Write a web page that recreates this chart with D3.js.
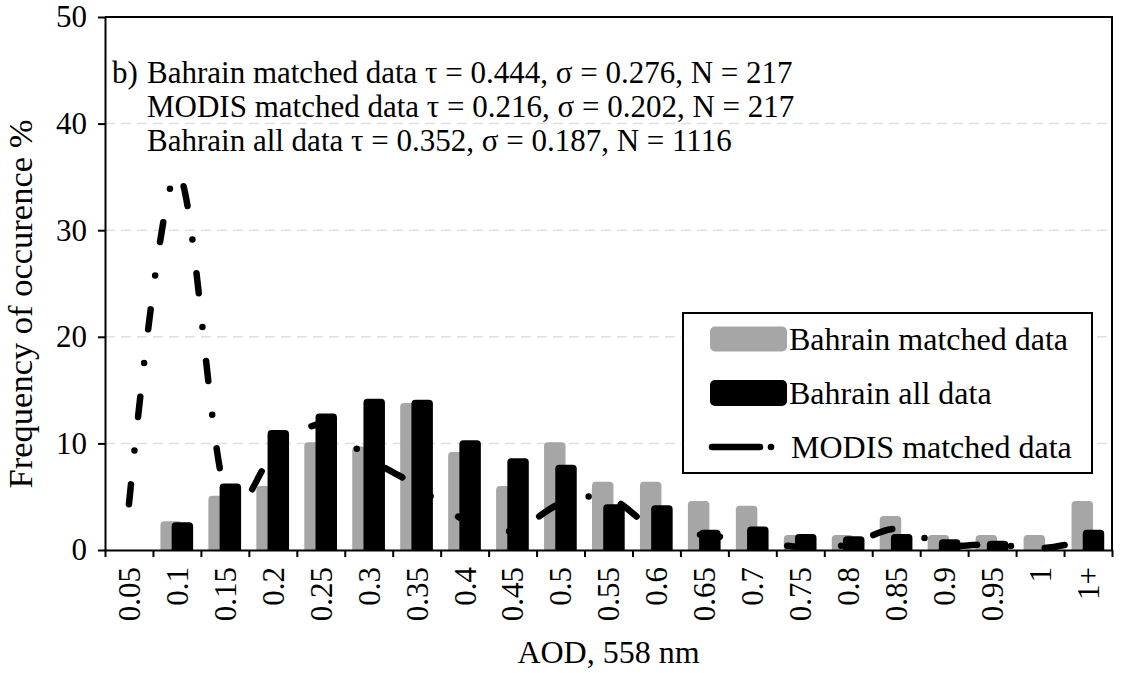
<!DOCTYPE html>
<html>
<head>
<meta charset="utf-8">
<script src="https://cdn.jsdelivr.net/npm/d3@7"></script>
<style>
  html, body { margin: 0; padding: 0; background: #fff; }
  svg text { fill: #000; }
</style>
</head>
<body>
<svg id="chart" width="1123" height="673"></svg>
<script>
// AOD bins (558 nm)
const categories = ["0.05","0.1","0.15","0.2","0.25","0.3","0.35","0.4","0.45","0.5",
                    "0.55","0.6","0.65","0.7","0.75","0.8","0.85","0.9","0.95","1","1+"];

// Frequency of occurrence, %
const bahrainMatched = [0, 2.7, 5.1, 6.0, 10.1, 9.7, 13.8, 9.2, 6.0, 10.1,
                        6.4, 6.4, 4.6, 4.15, 1.4, 1.4, 3.2, 1.4, 1.4, 1.4, 4.6];
const bahrainAll     = [0, 2.6, 6.25, 11.25, 12.8, 14.2, 14.1, 10.3, 8.6, 8.0,
                        4.3, 4.2, 1.9, 2.2, 1.5, 1.3, 1.5, 1.0, 0.87, 0, 1.9];
const modisMatched   = [4.3, 35.4, 5.6, 8.8, 11.8, 8.6, 6.0, 2.8, 1.8, 4.35,
                        4.9, 1.9, 1.4, 0.9, 0.3, 0.5, 2.0, 0.45, 0.55, 0.15, 0.95];

const yTicks = [0, 10, 20, 30, 40, 50];
const gridTicks = [10, 20, 30, 40];

const panelTag = "b)";
const statsLines = [
  "Bahrain matched data \u03c4 = 0.444, \u03c3 = 0.276, N = 217",
  "MODIS matched data \u03c4 = 0.216, \u03c3 = 0.202, N = 217",
  "Bahrain all data \u03c4 = 0.352, \u03c3 = 0.187, N = 1116"
];
const legendLabels = ["Bahrain matched data", "Bahrain all data", "MODIS matched data"];
const xTitle = "AOD, 558 nm";
const yTitle = "Frequency of occurence %";

const GREY = "#a6a6a6";
const FONT = 31;
const FAMILY = '"Liberation Serif", "Times New Roman", serif';

const svg = d3.select("#chart");
const plot = { left: 105, right: 1112, top: 17, bottom: 550 };

const x = d3.scaleBand().domain(categories).range([plot.left, plot.right]).padding(0);
const y = d3.scaleLinear().domain([0, 50]).range([plot.bottom, plot.top]);
const bw = x.bandwidth();

function serif(sel, size) {
  return sel.style("font-family", FAMILY).style("font-size", size + "px");
}

// gridlines
svg.append("g")
  .selectAll("line")
  .data(gridTicks)
  .join("line")
  .attr("x1", plot.left).attr("x2", plot.right)
  .attr("y1", d => y(d)).attr("y2", d => y(d))
  .attr("stroke", "#e0e0e0").attr("stroke-width", 1.5)
  .attr("stroke-dasharray", "10,6");

// column with rounded top corners
function column(x0, w, v) {
  const base = y(0), top = y(v);
  const h = base - top;
  if (h <= 0) return "";
  const r = Math.min(4, h, w / 2);
  return `M${x0},${base}V${top + r}Q${x0},${top} ${x0 + r},${top}` +
         `H${x0 + w - r}Q${x0 + w},${top} ${x0 + w},${top + r}V${base}Z`;
}

const barW = bw * 0.448;
const greyOff = bw * 0.156;
const blackOff = bw * 0.39;

svg.append("g")
  .selectAll("path")
  .data(bahrainMatched)
  .join("path")
  .attr("d", (d, i) => column(x(categories[i]) + greyOff, barW, d))
  .attr("fill", GREY);

// MODIS smoothed dash-dot line
const line = d3.line()
  .x((d, i) => x(categories[i]) + bw / 2)
  .y(d => y(d))
  .curve(d3.curveCardinal.tension(0));

svg.append("path")
  .datum(modisMatched)
  .attr("d", line)
  .attr("fill", "none")
  .attr("stroke", "#000")
  .attr("stroke-width", 6.5)
  .attr("stroke-linecap", "round")
  .attr("stroke-linejoin", "round")
  .attr("stroke-dasharray", "20,34,0,34");

svg.append("g")
  .selectAll("path")
  .data(bahrainAll)
  .join("path")
  .attr("d", (d, i) => column(x(categories[i]) + blackOff, barW, d))
  .attr("fill", "#000");

// plot frame (top & right)
svg.append("path")
  .attr("d", `M${plot.left},${plot.top}H${plot.right}V${plot.bottom}`)
  .attr("fill", "none").attr("stroke", "#000").attr("stroke-width", 2);

// y axis
const yAxis = svg.append("g")
  .attr("transform", `translate(${plot.left},0)`)
  .call(d3.axisLeft(y).tickValues(yTicks).tickSize(7).tickSizeOuter(0).tickPadding(11));
yAxis.select(".domain").attr("stroke-width", 2);
yAxis.selectAll(".tick line").attr("stroke-width", 2);
serif(yAxis.selectAll("text"), FONT);

// x axis: boundary ticks
const idx = d3.scaleLinear().domain([0, categories.length]).range([plot.left, plot.right]);
const xBound = svg.append("g")
  .attr("transform", `translate(0,${plot.bottom})`)
  .call(d3.axisBottom(idx).tickValues(d3.range(categories.length + 1)).tickSize(7).tickSizeOuter(0).tickFormat(""));
xBound.select(".domain").attr("stroke-width", 2);
xBound.selectAll(".tick line").attr("stroke-width", 2);

// x axis: rotated category labels
const xLab = svg.append("g")
  .attr("transform", `translate(0,${plot.bottom})`)
  .call(d3.axisBottom(x).tickSize(0));
xLab.select(".domain").remove();
serif(xLab.selectAll("text"), FONT)
  .attr("transform", "rotate(-90)")
  .attr("text-anchor", "end")
  .attr("x", -17)
  .attr("y", 0)
  .attr("dy", "0.35em");

// axis titles
serif(svg.append("text"), 32)
  .attr("x", (plot.left + plot.right) / 2)
  .attr("y", 663)
  .attr("text-anchor", "middle")
  .text(xTitle);

serif(svg.append("text"), 34.5)
  .attr("transform", "translate(32,304) rotate(-90)")
  .attr("text-anchor", "middle")
  .text(yTitle);

// statistics annotation
serif(svg.append("text"), FONT)
  .attr("x", 112).attr("y", 83)
  .text(panelTag);
serif(svg.append("g")
  .selectAll("text")
  .data(statsLines)
  .join("text"), FONT)
  .attr("x", 147)
  .attr("y", (d, i) => 83 + i * 34)
  .text(d => d);

// legend
const lg = svg.append("g");
lg.append("rect")
  .attr("x", 683).attr("y", 313).attr("width", 409).attr("height", 160)
  .attr("fill", "#fff").attr("stroke", "#000").attr("stroke-width", 2);
const rowY = [339, 393, 447];
lg.append("rect").attr("x", 710).attr("y", rowY[0] - 12.5).attr("width", 77).attr("height", 25)
  .attr("rx", 5).attr("fill", GREY);
lg.append("rect").attr("x", 710).attr("y", rowY[1] - 13).attr("width", 77).attr("height", 26)
  .attr("rx", 5).attr("fill", "#000");
lg.append("line").attr("x1", 712).attr("x2", 760).attr("y1", rowY[2]).attr("y2", rowY[2])
  .attr("stroke", "#000").attr("stroke-width", 6.5).attr("stroke-linecap", "round");
lg.append("circle").attr("cx", 771).attr("cy", rowY[2]).attr("r", 3.3).attr("fill", "#000");
serif(lg.selectAll("text.lab")
  .data(legendLabels)
  .join("text"), 32)
  .attr("class", "lab")
  .attr("x", (d, i) => i === 2 ? 791 : 789)
  .attr("y", (d, i) => rowY[i])
  .attr("dy", "0.35em")
  .text(d => d);
</script>
</body>
</html>
